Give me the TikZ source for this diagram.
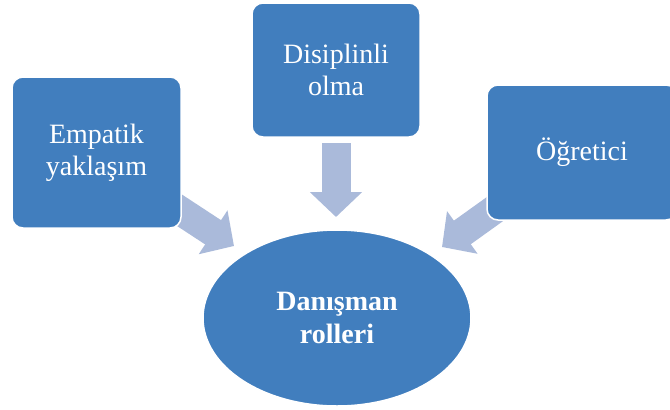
\documentclass[tikz,border=0pt]{standalone}
\usepackage{fontspec}
\setmainfont{Liberation Serif}
\usetikzlibrary{shapes.geometric,arrows.meta}
\definecolor{boxblue}{RGB}{65,126,190}
\definecolor{arrowblue}{RGB}{170,186,218}
\tikzset{
  rolebox/.style={draw=white, line width=1.5pt, fill=boxblue, rounded corners=11pt,
    text=white, align=center, inner sep=0pt, font=\fontsize{28}{32}\selectfont},
  centre/.style={ellipse, draw=white, line width=1.5pt, fill=boxblue, text=white,
    align=center, inner sep=0pt, font=\bfseries\fontsize{28}{33}\selectfont},
  blockarrow/.style={draw=arrowblue, fill=arrowblue, line width=29pt, line cap=butt,
    -{Triangle[width=51pt 0, length=25pt 0]}}
}
\begin{document}
\begin{tikzpicture}[x=1pt,y=-1pt]
\useasboundingbox (0,0) rectangle (670,410);
\clip (0,0) rectangle (670,410);
% arrow coordinates
\coordinate (la0) at (173,206);
\coordinate (la1) at (234,246);
\coordinate (ta0) at (336,143);
\coordinate (ta1) at (336,217);
\coordinate (ra0) at (502,204);
\coordinate (ra1) at (442,247);
\draw[blockarrow] (la0) -- (la1);
\draw[blockarrow] (ta0) -- (ta1);
\draw[blockarrow] (ra0) -- (ra1);
% boxes
\node[rolebox, minimum width=169pt, minimum height=151pt] (emp) at (96.5,152.5) {Empatik\\yaklaşım};
\node[rolebox, minimum width=168pt, minimum height=134pt] (dis) at (336,70) {Disiplinli\\olma};
\node[rolebox, minimum width=190pt, minimum height=135pt] (ogr) at (582,152.5) {Öğretici};
\node[centre, minimum width=268pt, minimum height=176pt] (dan) at (337,318) {Danışman\\rolleri};
\end{tikzpicture}
\end{document}
